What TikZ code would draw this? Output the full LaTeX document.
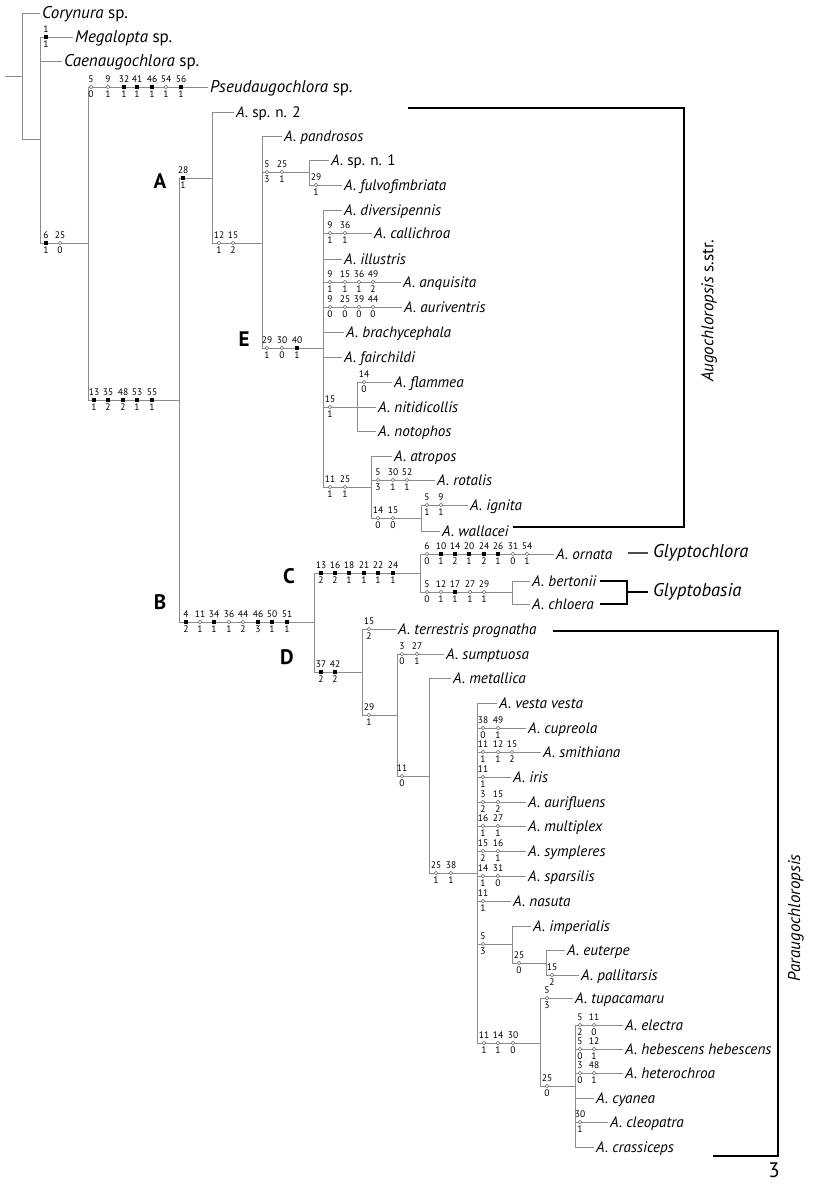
\documentclass[tikz,border=0pt]{standalone}
\usepackage{fontspec}
\setmainfont{PT Sans}
\definecolor{treegray}{RGB}{140,140,140}
\definecolor{markgray}{RGB}{110,110,110}
\newcommand\mk[5]{%
  \node[#5] (k#1x#2) at (#1,#2) {};
  \node[cnum] (ka#1x#2) at (#1,#2-7.5) {#3};
  \node[cnum] (kb#1x#2) at (#1,#2+7.5) {#4};}
\begin{document}
\begin{tikzpicture}[x=1pt,y=-1pt,
  br/.style={draw=treegray,line width=0.9pt},
  brk/.style={draw=black,line width=2.4pt},
  taxon/.style={anchor=west,inner xsep=2pt,inner ysep=0pt,text height=10.5pt,text depth=0pt,font=\fontsize{15.2}{17}\selectfont\itshape},
  outg/.style={taxon,text height=11.5pt,font=\fontsize{17}{19}\selectfont\itshape},
  chf/.style={fill=black,inner sep=0pt,minimum size=3.2pt,shape=rectangle},
  cho/.style={draw=markgray,fill=white,line width=0.6pt,inner sep=0pt,minimum size=3.4pt,shape=circle},
  cnum/.style={inner sep=0pt,font=\fontsize{9.5}{10}\selectfont},
  clade/.style={inner sep=0pt,font=\fontsize{21}{24}\selectfont\bfseries},
  group/.style={anchor=west,inner sep=0pt,font=\fontsize{18.5}{20}\selectfont\itshape},
  side/.style={inner sep=0pt,rotate=90,font=\fontsize{17}{19}\selectfont\itshape}]
\useasboundingbox (0,0) rectangle (812,1193);
% internal nodes
\coordinate (stub) at (5,76);
\coordinate (root) at (22,76);
\coordinate (n1) at (40,139);
\coordinate (n2) at (88,243);
\coordinate (nAB) at (179,400);
\coordinate (nA) at (212,178);
\coordinate (n12) at (262,243);
\coordinate (n525) at (309,172);
\coordinate (nE) at (323,348);
\coordinate (n15) at (357,407);
\coordinate (n1125) at (371,487);
\coordinate (n1415) at (421,518);
\coordinate (nBr) at (314,622);
\coordinate (nC) at (420,573);
\coordinate (nGB) at (512,592);
\coordinate (nD) at (362,672);
\coordinate (n29) at (397,715);
\coordinate (n11) at (429,776);
\coordinate (n2538) at (477,873);
\coordinate (n5) at (512,944);
\coordinate (n25b) at (546,963);
\coordinate (n111430) at (540,1043);
\coordinate (n25c) at (575,1086);
% taxa
\node[outg] (cory) at (40,13) {Corynura \textup{sp.}};
\node[outg] (mega) at (73,37) {Megalopta \textup{sp.}};
\node[outg] (caen) at (62,61) {Caenaugochlora \textup{sp.}};
\node[outg] (pseudo) at (208,87) {Pseudaugochlora \textup{sp.}};
\node[taxon] (spn2) at (234,112) {A. \textup{sp. n. 2}};
\node[taxon] (pand) at (282,136) {A. pandrosos};
\node[taxon] (spn1) at (329,160) {A. \textup{sp. n. 1}};
\node[taxon] (fulvo) at (342,185) {A. fulvofimbriata};
\node[taxon] (divers) at (342,210) {A. diversipennis};
\node[taxon] (callich) at (372,233) {A. callichroa};
\node[taxon] (illus) at (342,259) {A. illustris};
\node[taxon] (anquis) at (401,282) {A. anquisita};
\node[taxon] (aurivent) at (402,307) {A. auriventris};
\node[taxon] (brachy) at (344,332) {A. brachycephala};
\node[taxon] (fairch) at (342,357) {A. fairchildi};
\node[taxon] (flammea) at (392,382) {A. flammea};
\node[taxon] (nitid) at (376,407) {A. nitidicollis};
\node[taxon] (notoph) at (376,431) {A. notophos};
\node[taxon] (atropos) at (392,456) {A. atropos};
\node[taxon] (rotalis) at (435,480) {A. rotalis};
\node[taxon] (ignita) at (468,505) {A. ignita};
\node[taxon] (wallacei) at (440,531) {A. wallacei};
\node[taxon] (ornata) at (554,554) {A. ornata};
\node[taxon] (bertonii) at (530,581) {A. bertonii};
\node[taxon] (chloera) at (530,604) {A. chloera};
\node[taxon] (terr) at (396,629) {A. terrestris prognatha};
\node[taxon] (sumpt) at (444,654) {A. sumptuosa};
\node[taxon] (metal) at (451,678) {A. metallica};
\node[taxon] (vesta) at (497,703) {A. vesta vesta};
\node[taxon] (cupr) at (526,728) {A. cupreola};
\node[taxon] (smith) at (541,752) {A. smithiana};
\node[taxon] (iris) at (511,777) {A. iris};
\node[taxon] (aurifl) at (526,802) {A. aurifluens};
\node[taxon] (multi) at (526,826) {A. multiplex};
\node[taxon] (symp) at (526,851) {A. sympleres};
\node[taxon] (spars) at (526,876) {A. sparsilis};
\node[taxon] (nasuta) at (511,901) {A. nasuta};
\node[taxon] (imper) at (531,926) {A. imperialis};
\node[taxon] (euterpe) at (565,950) {A. euterpe};
\node[taxon] (pallit) at (579,975) {A. pallitarsis};
\node[taxon] (tupac) at (573,998) {A. tupacamaru};
\node[taxon] (electra) at (623,1025) {A. electra};
\node[taxon] (hebes) at (623,1049) {A. hebescens hebescens};
\node[taxon] (hetero) at (623,1073) {A. heterochroa};
\node[taxon] (cyanea) at (594,1098) {A. cyanea};
\node[taxon] (cleop) at (608,1122) {A. cleopatra};
\node[taxon] (crass) at (594,1147) {A. crassiceps};
% branches
\draw[br] (stub) -- (root);
\draw[br] (root) |- (cory.west);
\draw[br] (root) |- (n1);
\draw[br] (n1) |- (mega.west);
\draw[br] (n1) |- (caen.west);
\draw[br] (n1) |- (n2);
\draw[br] (n2) |- (pseudo.west);
\draw[br] (n2) |- (nAB);
\draw[br] (nAB) |- (nA);
\draw[br] (nAB) |- (nBr);
\draw[br] (nA) |- (spn2.west);
\draw[br] (nA) |- (n12);
\draw[br] (n12) |- (pand.west);
\draw[br] (n12) |- (n525);
\draw[br] (n12) |- (nE);
\draw[br] (n525) |- (spn1.west);
\draw[br] (n525) |- (fulvo.west);
\foreach \t in {divers,callich,illus,anquis,aurivent,brachy,fairch} \draw[br] (nE) |- (\t.west);
\draw[br] (nE) |- (n15);
\draw[br] (nE) |- (n1125);
\foreach \t in {flammea,nitid,notoph} \draw[br] (n15) |- (\t.west);
\draw[br] (n1125) |- (atropos.west);
\draw[br] (n1125) |- (rotalis.west);
\draw[br] (n1125) |- (n1415);
\draw[br] (n1415) |- (ignita.west);
\draw[br] (n1415) |- (wallacei.west);
\draw[br] (nBr) |- (nC);
\draw[br] (nBr) |- (nD);
\draw[br] (nC) |- (ornata.west);
\draw[br] (nC) |- (nGB);
\draw[br] (nGB) |- (bertonii.west);
\draw[br] (nGB) |- (chloera.west);
\draw[br] (nD) |- (terr.west);
\draw[br] (nD) |- (n29);
\draw[br] (n29) |- (sumpt.west);
\draw[br] (n29) |- (n11);
\draw[br] (n11) |- (metal.west);
\draw[br] (n11) |- (n2538);
\foreach \t in {vesta,cupr,smith,iris,aurifl,multi,symp,spars,nasuta} \draw[br] (n2538) |- (\t.west);
\draw[br] (n2538) |- (n5);
\draw[br] (n2538) |- (n111430);
\draw[br] (n5) |- (imper.west);
\draw[br] (n5) |- (n25b);
\draw[br] (n25b) |- (euterpe.west);
\draw[br] (n25b) |- (pallit.west);
\draw[br] (n111430) |- (tupac.west);
\draw[br] (n111430) |- (n25c);
\foreach \t in {electra,hebes,hetero,cyanea,cleop,crass} \draw[br] (n25c) |- (\t.west);
% character marks
\mk{46}{37}{1}{1}{chf}
\mk{91}{87}{5}{0}{cho}\mk{108}{87}{9}{1}{cho}\mk{124}{87}{32}{1}{chf}\mk{137}{87}{41}{1}{chf}\mk{152}{87}{46}{1}{chf}\mk{166}{87}{54}{1}{cho}\mk{181}{87}{56}{1}{chf}
\mk{46}{243}{6}{1}{chf}\mk{60}{243}{25}{0}{cho}
\mk{94}{400}{13}{1}{chf}\mk{108}{400}{35}{2}{chf}\mk{123}{400}{48}{2}{chf}\mk{137}{400}{53}{1}{chf}\mk{152}{400}{55}{1}{chf}
\mk{183}{178}{28}{1}{chf}
\mk{219}{243}{12}{1}{cho}\mk{233}{243}{15}{2}{cho}
\mk{267}{172}{5}{3}{cho}\mk{282}{172}{25}{1}{cho}
\mk{316}{185}{29}{1}{cho}
\mk{267}{348}{29}{1}{cho}\mk{282}{348}{30}{0}{cho}\mk{297}{348}{40}{1}{chf}
\mk{330}{233}{9}{1}{cho}\mk{345}{233}{36}{1}{cho}
\mk{330}{282}{9}{1}{cho}\mk{345}{282}{15}{1}{cho}\mk{359}{282}{36}{1}{cho}\mk{373}{282}{49}{2}{cho}
\mk{330}{307}{9}{0}{cho}\mk{345}{307}{25}{0}{cho}\mk{359}{307}{39}{0}{cho}\mk{373}{307}{44}{0}{cho}
\mk{330}{407}{15}{1}{cho}
\mk{364}{382}{14}{0}{cho}
\mk{330}{487}{11}{1}{cho}\mk{345}{487}{25}{1}{cho}
\mk{378}{480}{5}{3}{cho}\mk{393}{480}{30}{1}{cho}\mk{407}{480}{52}{1}{cho}
\mk{378}{518}{14}{0}{cho}\mk{393}{518}{15}{0}{cho}
\mk{427}{505}{5}{1}{cho}\mk{441}{505}{9}{1}{cho}
\mk{186}{622}{4}{2}{chf}\mk{200}{622}{11}{1}{cho}\mk{214}{622}{34}{1}{chf}\mk{229}{622}{36}{1}{cho}\mk{243}{622}{44}{2}{cho}\mk{258}{622}{46}{3}{chf}\mk{272}{622}{50}{1}{chf}\mk{287}{622}{51}{1}{chf}
\mk{321}{573}{13}{2}{chf}\mk{335}{573}{16}{2}{chf}\mk{349}{573}{18}{1}{chf}\mk{364}{573}{21}{1}{chf}\mk{378}{573}{22}{1}{chf}\mk{393}{573}{24}{1}{chf}
\mk{427}{554}{6}{0}{cho}\mk{441}{554}{10}{1}{chf}\mk{455}{554}{14}{2}{chf}\mk{469}{554}{20}{1}{chf}\mk{484}{554}{24}{2}{chf}\mk{498}{554}{26}{1}{chf}\mk{513}{554}{31}{0}{cho}\mk{527}{554}{54}{1}{cho}
\mk{427}{592}{5}{0}{cho}\mk{441}{592}{12}{1}{cho}\mk{455}{592}{17}{1}{chf}\mk{470}{592}{27}{1}{cho}\mk{484}{592}{29}{1}{cho}
\mk{321}{672}{37}{2}{chf}\mk{335}{672}{42}{2}{chf}
\mk{369}{629}{15}{2}{cho}
\mk{369}{715}{29}{1}{cho}
\mk{402}{654}{3}{0}{cho}\mk{417}{654}{27}{1}{cho}
\mk{402}{776}{11}{0}{cho}
\mk{436}{873}{25}{1}{cho}\mk{451}{873}{38}{1}{cho}
\mk{483}{728}{38}{0}{cho}\mk{498}{728}{49}{1}{cho}
\mk{483}{752}{11}{1}{cho}\mk{498}{752}{12}{1}{cho}\mk{512}{752}{15}{2}{cho}
\mk{483}{777}{11}{1}{cho}
\mk{483}{802}{3}{2}{cho}\mk{498}{802}{15}{2}{cho}
\mk{483}{826}{16}{1}{cho}\mk{498}{826}{27}{1}{cho}
\mk{483}{851}{15}{2}{cho}\mk{498}{851}{16}{1}{cho}
\mk{483}{876}{14}{1}{cho}\mk{498}{876}{31}{0}{cho}
\mk{483}{901}{11}{1}{cho}
\mk{483}{944}{5}{3}{cho}
\mk{519}{963}{25}{0}{cho}
\mk{552}{975}{15}{2}{cho}
\mk{484}{1043}{11}{1}{cho}\mk{498}{1043}{14}{1}{cho}\mk{513}{1043}{30}{0}{cho}
\mk{547}{998}{5}{3}{cho}
\mk{547}{1086}{25}{0}{cho}
\mk{580}{1025}{5}{2}{cho}\mk{594}{1025}{11}{0}{cho}
\mk{580}{1049}{5}{0}{cho}\mk{594}{1049}{12}{1}{cho}
\mk{580}{1073}{3}{0}{cho}\mk{594}{1073}{48}{1}{cho}
\mk{580}{1122}{30}{1}{cho}
% clade letters
\node[clade] (labA) at (160,181) {A};
\node[clade] (labE) at (244,339) {E};
\node[clade] (labB) at (160,602) {B};
\node[clade] (labC) at (289,576) {C};
\node[clade] (labD) at (287,657) {D};
% brackets
\coordinate (aug1) at (408,108);
\coordinate (aug2) at (684,108);
\coordinate (aug3) at (684,527);
\coordinate (aug4) at (513,527);
\draw[brk,line join=miter] (aug1) -- (aug2) -- (aug3) -- (aug4);
\node[side] (augl) at (709,311) {Augochloropsis \textup{s.str.}};
\coordinate (gc1) at (628,553);
\coordinate (gc2) at (648,553);
\draw[draw=black!70,line width=1.8pt] (gc1) -- (gc2);
\node[group] (glc) at (653,553) {Glyptochlora};
\coordinate (gb1) at (600,581);
\coordinate (gb2) at (627,581);
\coordinate (gb3) at (627,604);
\coordinate (gb4) at (600,604);
\coordinate (gb5) at (627,592);
\coordinate (gb6) at (648,592);
\draw[brk,line join=miter] (gb1) -- (gb2) -- (gb3) -- (gb4);
\draw[brk] (gb5) -- (gb6);
\node[group] (glb) at (653,592) {Glyptobasia};
\coordinate (par1) at (553,631);
\coordinate (par2) at (778,631);
\coordinate (par3) at (778,1156);
\coordinate (par4) at (713,1156);
\draw[brk,line join=miter] (par1) -- (par2) -- (par3) -- (par4);
\node[side] (parl) at (796,918) {Paraugochloropsis};
\node[inner sep=0pt,font=\fontsize{21}{24}\selectfont] (num3) at (774,1170) {3};
\end{tikzpicture}
\end{document}
